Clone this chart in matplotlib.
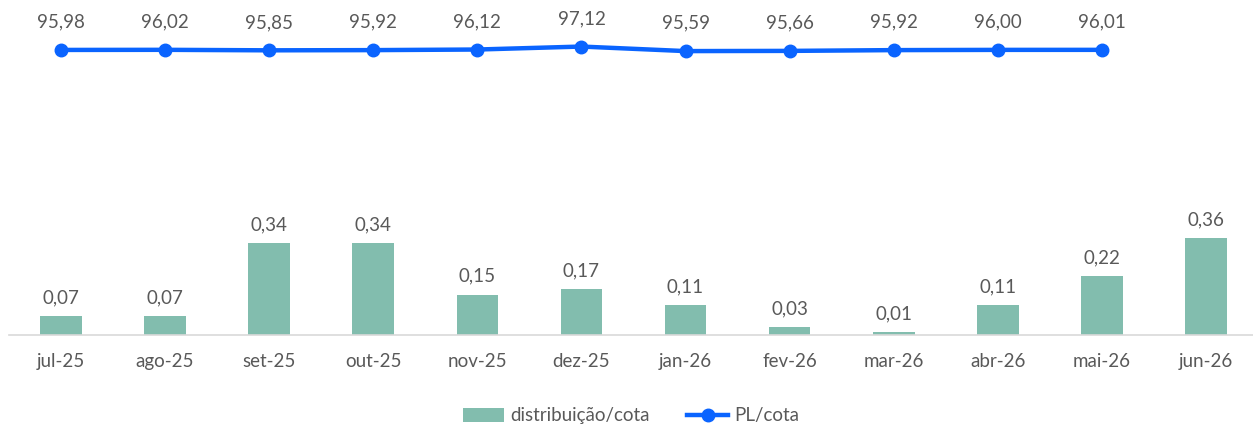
import matplotlib
matplotlib.use("Agg")
import matplotlib.pyplot as plt
from matplotlib.lines import Line2D
from matplotlib.patches import Patch

categories = ["jul-25", "ago-25", "set-25", "out-25", "nov-25", "dez-25",
              "jan-26", "fev-26", "mar-26", "abr-26", "mai-26", "jun-26"]
distribuicao = [0.07, 0.07, 0.34, 0.34, 0.15, 0.17, 0.11, 0.03, 0.01, 0.11, 0.22, 0.36]
pl_cota = [95.98, 96.02, 95.85, 95.92, 96.12, 97.12, 95.59, 95.66, 95.92, 96.00, 96.01]

FONT = ["Lato", "DejaVu Sans"]
plt.rcParams["font.family"] = FONT
TXT = "#595959"
BAR = "#82BDAE"
LINE = "#0A64FF"
FS = 13.5

W, H = 1253, 425
fig = plt.figure(figsize=(W / 100, H / 100), dpi=100)
left, right, bottom, top = 9, 1258, 335, 10
ax = fig.add_axes([left / W, 1 - bottom / H, (right - left) / W, (bottom - top) / H])
ax2 = ax.twinx()

x = list(range(len(categories)))
ax.bar(x, distribuicao, width=0.4, color=BAR, zorder=2)
ax.set_xlim(-0.5, len(categories) - 0.5)
ax.set_ylim(0, (bottom - top) / 270)
for xi, v in zip(x, distribuicao):
    ax.annotate(f"{v:.2f}".replace(".", ","), (xi, v), xytext=(0, 7),
                textcoords="offset points", ha="center", va="bottom",
                fontsize=FS, color=TXT)

xl = x[:len(pl_cota)]
ax2.plot(xl, pl_cota, color=LINE, lw=3.2, marker="o", ms=9, zorder=3)
ax2.set_ylim(0, (bottom - top) / 2.97)
for xi, v in zip(xl, pl_cota):
    ax2.annotate(f"{v:.2f}".replace(".", ","), (xi, v), xytext=(0, 14),
                 textcoords="offset points", ha="center", va="bottom",
                 fontsize=FS, color=TXT)

for a in (ax, ax2):
    for s in ("top", "left", "right"):
        a.spines[s].set_visible(False)
    a.set_yticks([])
ax2.spines["bottom"].set_visible(False)
ax.spines["bottom"].set_color("#d9d9d9")
ax.spines["bottom"].set_linewidth(1.2)
ax.set_xticks(x)
ax.set_xticklabels(categories, fontsize=FS, color=TXT)
ax.tick_params(axis="x", length=0, pad=13)

handles = [Patch(facecolor=BAR, edgecolor="none"),
           Line2D([0], [0], color=LINE, lw=3.2, marker="o", ms=9)]
fig.legend(handles, ["distribuição/cota", "PL/cota"], loc="center",
           bbox_to_anchor=(631 / W, 1 - 416 / H), ncol=2, frameon=False,
           fontsize=FS, labelcolor=TXT, handlelength=2.2, handletextpad=0.3,
           columnspacing=2.0)

fig.savefig("out.png", dpi=100)
